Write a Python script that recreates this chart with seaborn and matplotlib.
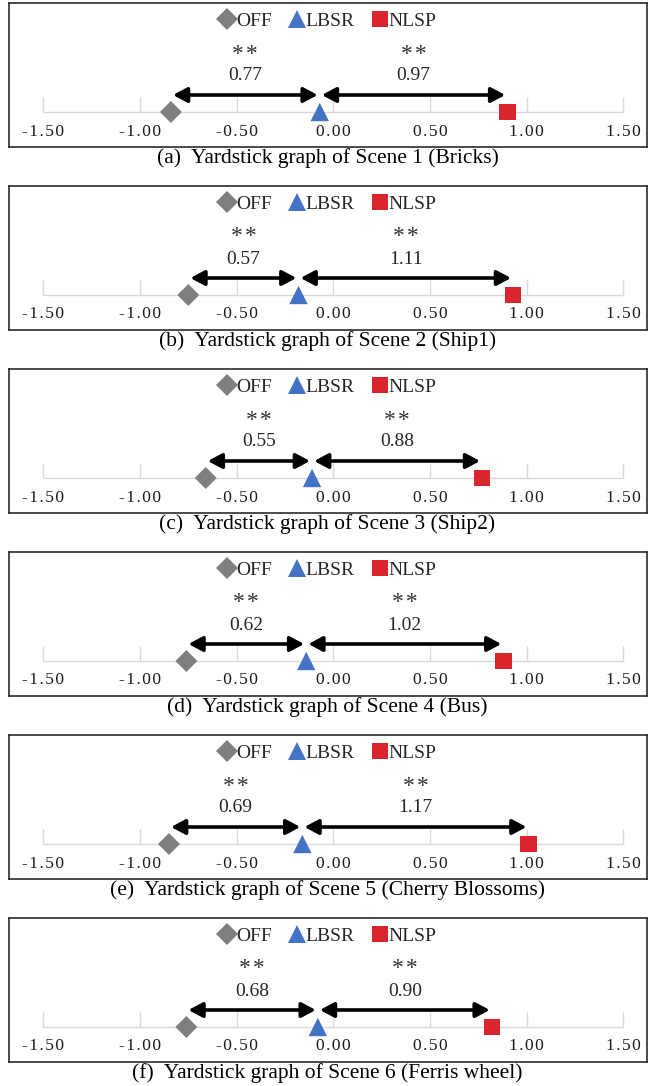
import pandas as pd
import seaborn as sns
from matplotlib import pyplot as plt
from matplotlib.patches import ArrowStyle

sns.set_style("white")
plt.rcParams['font.family'] = ['Liberation Serif', 'DejaVu Serif']

# values
methods = ["OFF", "LBSR", "NLSP"]
off_vals = [-0.84, -0.75, -0.66, -0.76, -0.85, -0.76]
lbsr_vals = [-0.07, -0.18, -0.11, -0.14, -0.16, -0.08]
nlsp_vals = [0.90, 0.93, 0.77, 0.88, 1.01, 0.82]
gap_left = ["0.77", "0.57", "0.55", "0.62", "0.69", "0.68"]
gap_right = ["0.97", "1.11", "0.88", "1.02", "1.17", "0.90"]
sig_left = ["**"] * 6
sig_right = ["**"] * 6
ticks = [-1.5, -1.0, -0.5, 0.0, 0.5, 1.0, 1.5]
captions = [
    "(a)  Yardstick graph of Scene 1 (Bricks)",
    "(b)  Yardstick graph of Scene 2 (Ship1)",
    "(c)  Yardstick graph of Scene 3 (Ship2)",
    "(d)  Yardstick graph of Scene 4 (Bus)",
    "(e)  Yardstick graph of Scene 5 (Cherry Blossoms)",
    "(f)  Yardstick graph of Scene 6 (Ferris wheel)",
]

palette = {"OFF": "#7f7f7f", "LBSR": "#4472c4", "NLSP": "#d9262e"}
markers = {"OFF": "D", "LBSR": "^", "NLSP": "s"}
sizes = {"OFF": 125, "LBSR": 175, "NLSP": 140}

W, H = 655, 1086
fig = plt.figure(figsize=(W / 100, H / 100), dpi=100)

box_tops = [3, 186, 369, 552, 735, 918]
box_h = 144
box_left, box_right = 9, 647
base = 109  # axis line, px below box top
px = 3 / 580  # data units per pixel
xlim = (-1.5 - 34.3 * px, 1.5 + (box_right - 623.3) * px)

for i in range(6):
    top = box_tops[i]
    ax = fig.add_axes([box_left / W, 1 - (top + box_h) / H,
                       (box_right - box_left) / W, box_h / H])
    ax.set_xlim(xlim)
    ax.set_ylim(-(box_h - base), base)
    ax.set_xticks([])
    ax.set_yticks([])
    for s in ax.spines.values():
        s.set_color("#1a1a1a")
        s.set_linewidth(1.1)

    # gridlines and axis line
    ax.vlines(ticks, 0, 15, color="#d9d9d9", lw=1.0, zorder=1)
    ax.hlines(0, ticks[0], ticks[-1], color="#d9d9d9", lw=1.0, zorder=1)
    for t in ticks:
        lab = "\u200a".join(f"{t:.2f}")
        ax.text(t, -19.5, lab, ha="center", va="center", fontsize=12.5, color="#1a1a1a")

    df = pd.DataFrame({"method": methods,
                       "value": [off_vals[i], lbsr_vals[i], nlsp_vals[i]],
                       "y": [0, 0, 0]})
    sns.scatterplot(data=df, x="value", y="y", hue="method", style="method",
                    size="method", palette=palette, markers=markers, sizes=sizes,
                    linewidth=0, ax=ax, zorder=3, legend="full")
    ax.set_xlabel("")
    ax.set_ylabel("")

    leg = ax.get_legend()
    handles = leg.legend_handles
    labels = [t.get_text() for t in leg.texts]
    leg.remove()
    ax.legend(handles, labels, loc="center", bbox_to_anchor=(0.5, (91 + box_h - base) / box_h),
              ncol=3, frameon=False, fontsize=14, handlelength=0.8,
              handletextpad=0.05, columnspacing=0.9, borderpad=0)

    # arrows with distances and significance
    pairs = [(off_vals[i], lbsr_vals[i], gap_left[i], sig_left[i]),
             (lbsr_vals[i], nlsp_vals[i], gap_right[i], sig_right[i])]
    for a, b, num, sig in pairs:
        ax.annotate("", xy=(b, 17), xytext=(a, 17),
                    arrowprops=dict(arrowstyle=ArrowStyle("<|-|>", head_length=0.6, head_width=0.32),
                                    mutation_scale=14, lw=2.6, color="black",
                                    shrinkA=1.5, shrinkB=1.5))
        mid = (a + b) / 2
        ax.text(mid, 36, num, ha="center", va="center", fontsize=14, color="#262626")
        ax.text(mid, 58, "\u200a".join(sig), ha="center", va="center", fontsize=17,
                color="#333333")

    fig.text(0.5, 1 - (top + 155) / H, captions[i], ha="center", va="center",
             fontsize=15.5, color="black")

fig.savefig("out.png", dpi=100)
